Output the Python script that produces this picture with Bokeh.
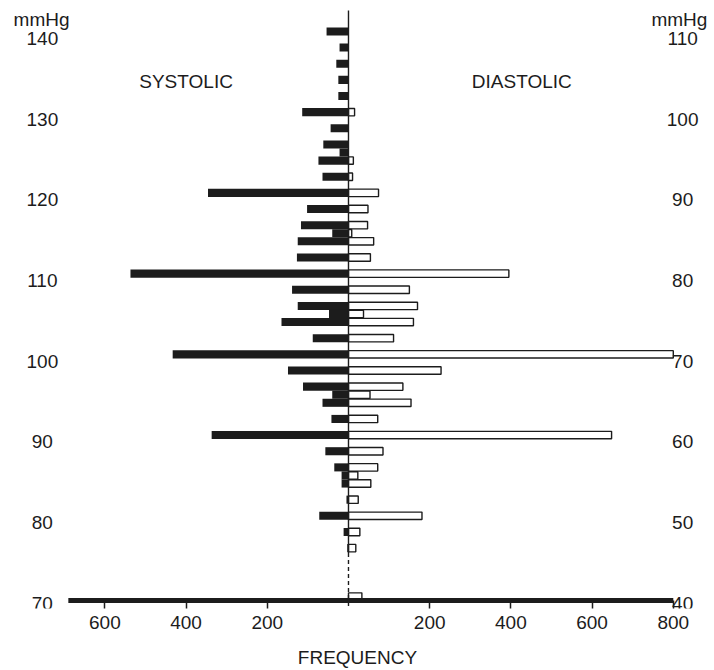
from bokeh.plotting import figure
from bokeh.models import Range1d, FixedTicker, CustomJSTickFormatter
from bokeh.core.properties import value
from bokeh.embed import file_html
from bokeh.resources import INLINE

# ---------------- data ----------------
sys_mmhg = [140, 138, 136, 134, 132, 130, 128, 126, 125, 124, 122, 120, 118, 116, 115,
            114, 112, 110, 108, 106, 105, 104, 102, 100, 98, 96, 95, 94, 92, 90, 88,
            86, 85, 84, 82, 80, 78, 76]
sys_freq = [54, 22, 30, 25, 25, 114, 44, 62, 22, 74, 64, 346, 102, 117, 40,
            125, 127, 537, 139, 125, 48, 165, 88, 433, 149, 112, 40, 64, 42, 337, 57,
            35, 17, 17, 5, 72, 12, 3]

dia_mmhg = [100, 94, 92, 90, 88, 86, 85, 84, 82, 80, 78, 76, 75, 74, 72, 70, 68, 66,
            65, 64, 62, 60, 58, 56, 55, 54, 52, 50, 48, 46, 40]
dia_freq = [15, 12, 10, 74, 48, 47, 8, 62, 54, 395, 150, 170, 37, 160, 111, 800, 228, 134,
            53, 154, 72, 648, 85, 72, 23, 55, 24, 181, 28, 18, 33]

sys_ticks = [70, 80, 90, 100, 110, 120, 130, 140]
sys_tick_labels = ["70", "80", "90", "100", "110", "120", "130", "140"]
dia_ticks = [40, 50, 60, 70, 80, 90, 100, 110]
dia_tick_labels = ["40", "50", "60", "70", "80", "90", "100", "110"]
freq_ticks = [-600, -400, -200, 200, 400, 600, 800]
freq_tick_labels = ["600", "400", "200", "200", "400", "600", "800"]

# ---------------- style / layout ----------------
FONT = "Liberation Sans"
INK = "#1c1c1c"
FS = "19px"
LABEL_SHIFT = 0.85          # printed scale labels sit slightly below their rows
X_LO, X_HI = -857.1, 901.5  # frequency units across the whole canvas width
Y_LO, Y_HI = 68.52, 143.83  # systolic mmHg range of the frame
DIA_OFFSET = 30             # diastolic scale = systolic scale - 30
BASE_LEFT, BASE_RIGHT = -690, 800   # extent of the heavy baseline
LEFT_LABEL_X, RIGHT_LABEL_X = -754, 823
TITLE_Y = 133.8

p = figure(width=714, height=670,
           x_range=Range1d(X_LO, X_HI), y_range=Range1d(Y_LO, Y_HI),
           output_backend="svg", toolbar_location=None, y_axis_location=None,
           min_border_left=0, min_border_right=0,
           min_border_top=0, min_border_bottom=60)
p.extra_y_ranges = {"dia": Range1d(Y_LO - DIA_OFFSET, Y_HI - DIA_OFFSET)}
p.xgrid.visible = False
p.ygrid.visible = False
p.outline_line_color = None
p.background_fill_color = "white"
p.border_fill_color = "white"

# systolic bars (left, solid black)
p.hbar(y=sys_mmhg, left=[-f for f in sys_freq], right=0, height=1.0,
       fill_color=INK, line_color=None)

# diastolic bars (right, open)
p.hbar(y=dia_mmhg, left=0, right=dia_freq, height=0.92,
       fill_color="white", line_color=INK, line_width=1.4, y_range_name="dia")

# central axis line: solid, dashed near the bottom
p.segment(x0=[0], y0=[142.6], x1=[0], y1=[75.4], line_color=INK, line_width=1.4)
p.segment(x0=[0], y0=[75.4], x1=[0], y1=[Y_LO], line_color=INK, line_width=1.4,
          line_dash="4 3")

# heavy baseline
p.segment(x0=[BASE_LEFT], y0=[69.5], x1=[BASE_RIGHT], y1=[69.5],
          line_color=INK, line_width=5)

# ---------------- scale labels ----------------
txt = dict(text_font=value(FONT), text_font_size=value(FS), text_color=INK,
           text_align="center", text_baseline="middle")
p.text(x=[LEFT_LABEL_X] * len(sys_ticks), y=[t - LABEL_SHIFT for t in sys_ticks],
       text=sys_tick_labels, **txt)
p.text(x=[RIGHT_LABEL_X] * len(dia_ticks), y=[t - LABEL_SHIFT for t in dia_ticks],
       text=dia_tick_labels, y_range_name="dia", **txt)
p.text(x=[LEFT_LABEL_X - 2, RIGHT_LABEL_X - 8], y=[141.5, 141.5],
       text=["mmHg", "mmHg"], **txt)
p.text(x=[-400, 427], y=[TITLE_Y, TITLE_Y], text=["SYSTOLIC", "DIASTOLIC"], **txt)

# ---------------- frequency axis ----------------
xa = p.xaxis[0]
xa.ticker = FixedTicker(ticks=freq_ticks)
xa.formatter = CustomJSTickFormatter(args=dict(labels=freq_tick_labels),
                                     code="return labels[index];")
xa.axis_line_color = None
xa.major_tick_in = 8
xa.major_tick_out = 0
xa.minor_tick_in = 0
xa.minor_tick_out = 0
xa.major_tick_line_color = INK
xa.major_tick_line_width = 1.5
xa.minor_tick_line_color = None
xa.major_label_standoff = 7
xa.major_label_text_font = FONT
xa.major_label_text_font_size = FS
xa.major_label_text_color = INK
xa.axis_label = "FREQUENCY"
xa.axis_label_standoff = 15
xa.axis_label_text_font = FONT
xa.axis_label_text_font_size = FS
xa.axis_label_text_font_style = "normal"
xa.axis_label_text_color = INK

open("out.html", "w").write(file_html(p, INLINE))
